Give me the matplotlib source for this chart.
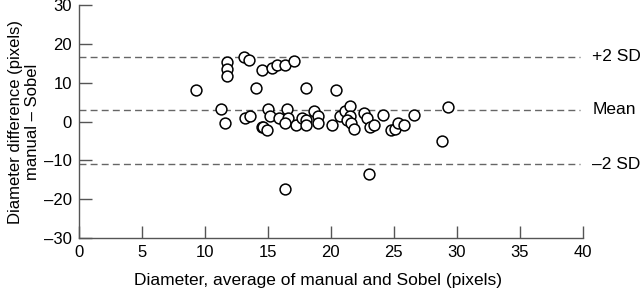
import matplotlib
matplotlib.use("Agg")
import matplotlib.pyplot as plt
import numpy as np

plt.rcParams['font.family'] = ['Liberation Sans', 'DejaVu Sans']

# Bland-Altman: mean diameter vs difference (manual - Sobel)
avg = [9.3, 11.3, 11.6, 11.8, 11.8, 11.8, 13.1, 13.5, 14.5, 14.1,
       13.2, 13.6, 14.5, 14.6, 14.9, 15.0, 15.2, 15.3, 15.7, 15.9,
       16.4, 16.5, 16.6, 16.4, 17.1, 17.2, 17.7, 18.0, 18.0, 18.7,
       19.0, 19.0, 18.0, 20.4, 20.1, 20.7, 21.1, 21.5, 21.5, 21.3,
       21.6, 21.8, 22.6, 22.9, 23.1, 23.4, 24.1, 24.8, 25.1, 25.3,
       25.8, 26.6, 29.3, 28.8, 23.0, 16.4]
diff = [8.2, 3.3, -0.5, 15.4, 13.6, 11.8, 16.7, 15.9, 13.3, 8.7,
        0.8, 1.5, -1.5, -1.5, -2.3, 3.3, 1.3, 13.8, 14.6, 1.0,
        14.6, 3.1, 1.0, -0.5, 15.6, -1.0, 0.8, 0.5, -1.0, 2.8,
        1.3, -0.3, 8.5, 8.2, -1.0, 1.5, 2.6, 4.1, 1.5, 0.5,
        -0.3, -1.8, 2.1, 0.8, -1.5, -1.0, 1.8, -2.1, -1.8, -0.3,
        -0.8, 1.8, 3.8, -5.1, -13.6, -17.4]

ref_vals = [16.7, 3.0, -11.0]
ref_labels = ['+2 SD', 'Mean', '\u20132 SD']

x_ticks = [0, 5, 10, 15, 20, 25, 30, 35, 40]
y_ticks = [-30, -20, -10, 0, 10, 20, 30]

fig = plt.figure(figsize=(6.4, 2.89), dpi=100)
ax = fig.add_axes([0.123, 0.176, 0.788, 0.807])

for v, lab in zip(ref_vals, ref_labels):
    ax.axhline(v, xmin=0, xmax=0.994, color='#666666', lw=1.0, dashes=(5, 3))
    ax.text(40.75, v, lab, va='center', ha='left', fontsize=12.5, clip_on=False)

ax.plot(avg, diff, 'o', ms=7.8, mfc='white', mec='black', mew=1.1, zorder=3)

ax.set_xlim(0, 40)
ax.set_ylim(-30, 30)
ax.set_xticks(x_ticks)
ax.set_yticks(y_ticks)
ax.set_xticklabels([str(t) for t in x_ticks])
ax.set_yticklabels([str(t).replace('-', '\u2013') for t in y_ticks])

for s in ['top', 'right']:
    ax.spines[s].set_visible(False)
for s in ['left', 'bottom']:
    ax.spines[s].set_color('#555555')
    ax.spines[s].set_linewidth(1.0)

ax.tick_params(direction='in', length=9, width=1.0, color='#555555',
               labelsize=12, pad=5)

ax.set_xlabel('Diameter, average of manual and Sobel (pixels)', fontsize=12.5,
              labelpad=9)
ax.xaxis.set_label_coords(0.475, -0.15)
ax.xaxis.label.set_va('top')
ax.set_ylabel('Diameter difference (pixels)\nmanual \u2013 Sobel', fontsize=12,
              labelpad=3, linespacing=1.1)

fig.savefig('out.png', dpi=100)
